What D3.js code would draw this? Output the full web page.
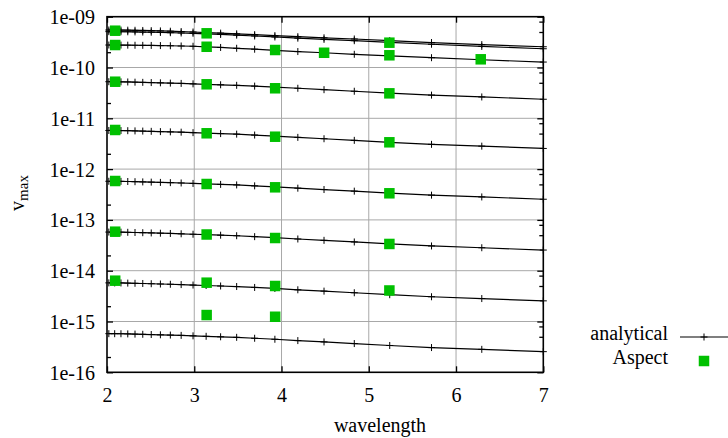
<!DOCTYPE html>
<html>
<head>
<meta charset="utf-8">
<script src="https://cdn.jsdelivr.net/npm/d3@7"></script>
<style>
  html, body { margin: 0; padding: 0; background: #ffffff; }
  svg { display: block; }
  svg text { font-family: "Liberation Serif", "Times New Roman", Times, "DejaVu Serif", serif !important; }
</style>
</head>
<body>
<script>
// Sample wavelengths of the analytical curves
const wavelength = [2.021, 2.088, 2.160, 2.238, 2.321, 2.410, 2.507, 2.612, 2.726, 2.850,
  2.986, 3.136, 3.302, 3.486, 3.692, 3.924, 4.187, 4.487, 4.834, 5.240, 5.719, 6.295, 7.000];

// Analytical maximum velocity, one array per amplitude level
const analytical1 = [5.47e-10, 5.46e-10, 5.45e-10, 5.43e-10, 5.40e-10, 5.36e-10, 5.31e-10, 5.25e-10, 5.18e-10, 5.10e-10,
  5.00e-10, 4.88e-10, 4.75e-10, 4.60e-10, 4.43e-10, 4.24e-10, 4.04e-10, 3.84e-10, 3.64e-10, 3.38e-10, 3.10e-10, 2.82e-10, 2.56e-10];
const analytical2 = [5.08e-10, 5.07e-10, 5.06e-10, 5.05e-10, 5.02e-10, 4.99e-10, 4.95e-10, 4.90e-10, 4.84e-10, 4.78e-10,
  4.71e-10, 4.60e-10, 4.47e-10, 4.33e-10, 4.17e-10, 3.99e-10, 3.78e-10, 3.58e-10, 3.37e-10, 3.13e-10, 2.87e-10, 2.60e-10, 2.34e-10];
const analytical3 = [2.77e-10, 2.77e-10, 2.76e-10, 2.75e-10, 2.74e-10, 2.73e-10, 2.72e-10, 2.70e-10, 2.68e-10, 2.65e-10,
  2.62e-10, 2.55e-10, 2.48e-10, 2.39e-10, 2.29e-10, 2.18e-10, 2.06e-10, 1.95e-10, 1.82e-10, 1.69e-10, 1.56e-10, 1.42e-10, 1.28e-10];
const analytical4 = [5.25e-11, 5.24e-11, 5.22e-11, 5.19e-11, 5.14e-11, 5.10e-11, 5.05e-11, 4.99e-11, 4.93e-11, 4.86e-11,
  4.77e-11, 4.67e-11, 4.57e-11, 4.46e-11, 4.30e-11, 4.12e-11, 3.90e-11, 3.66e-11, 3.41e-11, 3.13e-11, 2.86e-11, 2.63e-11, 2.37e-11];
const analytical5 = [5.76e-12, 5.75e-12, 5.74e-12, 5.70e-12, 5.65e-12, 5.60e-12, 5.54e-12, 5.47e-12, 5.41e-12, 5.33e-12,
  5.22e-12, 5.11e-12, 5.00e-12, 4.88e-12, 4.68e-12, 4.47e-12, 4.21e-12, 3.96e-12, 3.68e-12, 3.37e-12, 3.07e-12, 2.83e-12, 2.55e-12];
const analytical6 = [5.76e-13, 5.75e-13, 5.74e-13, 5.70e-13, 5.65e-13, 5.60e-13, 5.54e-13, 5.47e-13, 5.41e-13, 5.33e-13,
  5.22e-13, 5.11e-13, 5.00e-13, 4.88e-13, 4.68e-13, 4.47e-13, 4.21e-13, 3.96e-13, 3.68e-13, 3.37e-13, 3.07e-13, 2.83e-13, 2.55e-13];
const analytical7 = [5.76e-14, 5.75e-14, 5.74e-14, 5.70e-14, 5.65e-14, 5.60e-14, 5.54e-14, 5.47e-14, 5.41e-14, 5.33e-14,
  5.22e-14, 5.11e-14, 5.00e-14, 4.88e-14, 4.68e-14, 4.47e-14, 4.21e-14, 3.96e-14, 3.68e-14, 3.37e-14, 3.07e-14, 2.83e-14, 2.55e-14];
const analytical8 = [5.76e-15, 5.75e-15, 5.74e-15, 5.70e-15, 5.65e-15, 5.60e-15, 5.54e-15, 5.47e-15, 5.41e-15, 5.33e-15,
  5.22e-15, 5.11e-15, 5.00e-15, 4.88e-15, 4.68e-15, 4.47e-15, 4.21e-15, 3.96e-15, 3.68e-15, 3.37e-15, 3.07e-15, 2.83e-15, 2.55e-15];
const analytical9 = [5.76e-16, 5.75e-16, 5.74e-16, 5.70e-16, 5.65e-16, 5.60e-16, 5.54e-16, 5.47e-16, 5.41e-16, 5.33e-16,
  5.22e-16, 5.11e-16, 5.00e-16, 4.88e-16, 4.68e-16, 4.47e-16, 4.21e-16, 3.96e-16, 3.68e-16, 3.37e-16, 3.07e-16, 2.83e-16, 2.55e-16];

// Simulated (Aspect) results: wavelength / maximum velocity pairs
const aspectWavelength = [
  2.094, 3.142, 5.236,
  2.094, 3.142, 3.927, 4.488, 5.236, 6.283,
  2.094, 3.142, 3.927, 5.236,
  2.094, 3.142, 3.927, 5.236,
  2.094, 3.142, 3.927, 5.236,
  2.094, 3.142, 3.927, 5.236,
  2.094, 3.142, 3.927, 5.236,
  3.142, 3.927];
const aspectValue = [
  5.30e-10, 4.71e-10, 3.08e-10,
  2.77e-10, 2.56e-10, 2.21e-10, 1.95e-10, 1.74e-10, 1.45e-10,
  5.25e-11, 4.67e-11, 3.90e-11, 3.10e-11,
  5.89e-12, 5.07e-12, 4.34e-12, 3.37e-12,
  5.83e-13, 5.09e-13, 4.38e-13, 3.34e-13,
  5.86e-14, 5.16e-14, 4.40e-14, 3.36e-14,
  6.36e-15, 5.81e-15, 5.00e-15, 4.08e-15,
  1.34e-15, 1.24e-15];

// Axis ticks and labels
const xTicks = [2, 3, 4, 5, 6, 7];
const xTickLabels = ["2", "3", "4", "5", "6", "7"];
const yTicks = [1e-16, 1e-15, 1e-14, 1e-13, 1e-12, 1e-11, 1e-10, 1e-9];
const yTickLabels = ["1e-16", "1e-15", "1e-14", "1e-13", "1e-12", "1e-11", "1e-10", "1e-09"];
const yMinorLeft = [2e-16, 2e-15, 2e-14, 2e-13, 2e-12, 2e-11, 2e-10];
const yMinorRight = [5e-16, 8e-16, 5e-15, 8e-15, 5e-14, 8e-14, 5e-13, 8e-13, 5e-12, 8e-12, 5e-11, 8e-11, 5e-10, 8e-10];

const analyticalSeries = [analytical1, analytical2, analytical3, analytical4, analytical5,
  analytical6, analytical7, analytical8, analytical9];

const FONT = '"Liberation Serif", "Times New Roman", Times, "DejaVu Serif", serif';
const W = 728, H = 438;
const plotLeft = 107, plotRight = 543.3, plotTop = 16.7, plotBottom = 372.3;

const svg = d3.select("body").append("svg")
  .attr("width", W).attr("height", H)
  .style("font-family", FONT);

const x = d3.scaleLinear().domain([2, 7]).range([plotLeft, plotRight]);
const y = d3.scaleLog().domain([1e-16, 1e-9]).range([plotBottom, plotTop]);

// Grid
const grid = svg.append("g").attr("stroke", "#a8a8a8").attr("stroke-width", 1);
grid.selectAll("line.gx").data(xTicks.slice(1, -1)).join("line")
  .attr("class", "gx")
  .attr("x1", d => x(d)).attr("x2", d => x(d))
  .attr("y1", plotTop).attr("y2", plotBottom);
grid.selectAll("line.gy").data(yTicks.slice(1, -1)).join("line")
  .attr("class", "gy")
  .attr("x1", plotLeft).attr("x2", plotRight)
  .attr("y1", d => y(d)).attr("y2", d => y(d));

// Axes with inward ticks
function styleAxis(g) {
  g.select(".domain").remove();
  g.attr("font-family", null).style("font-family", FONT);
  g.selectAll(".tick line").attr("stroke", "#000").attr("stroke-width", 1.3);
  g.selectAll(".tick text").style("font-family", FONT).attr("font-size", 20).attr("fill", "#000");
}

svg.append("g").attr("transform", `translate(${plotLeft},0)`)
  .call(d3.axisLeft(y).tickValues(yTicks)
    .tickFormat((d, i) => yTickLabels[i]).tickSize(-6).tickPadding(12))
  .call(styleAxis)
  .call(g => g.selectAll(".tick text").attr("dy", "0.35em"));

svg.append("g").attr("transform", `translate(${plotLeft},0)`)
  .call(d3.axisLeft(y).tickValues(yMinorLeft).tickFormat(() => "").tickSize(-4))
  .call(styleAxis);

svg.append("g").attr("transform", `translate(${plotRight},0)`)
  .call(d3.axisRight(y).tickValues(yTicks).tickFormat(() => "").tickSize(-6))
  .call(styleAxis);

svg.append("g").attr("transform", `translate(${plotRight},0)`)
  .call(d3.axisRight(y).tickValues(yMinorRight).tickFormat(() => "").tickSize(-4))
  .call(styleAxis);

svg.append("g").attr("transform", `translate(0,${plotBottom})`)
  .call(d3.axisBottom(x).tickValues(xTicks)
    .tickFormat((d, i) => xTickLabels[i]).tickSize(-6).tickPadding(16))
  .call(styleAxis);

svg.append("g").attr("transform", `translate(0,${plotTop})`)
  .call(d3.axisTop(x).tickValues(xTicks).tickFormat(() => "").tickSize(-6))
  .call(styleAxis);

// Plot border
svg.append("rect")
  .attr("x", plotLeft).attr("y", plotTop)
  .attr("width", plotRight - plotLeft).attr("height", plotBottom - plotTop)
  .attr("fill", "none").attr("stroke", "#000").attr("stroke-width", 1.6);

// Analytical curves with plus markers
const line = d3.line().x(d => x(d[0])).y(d => y(d[1]));
const plusPath = "M-3.5,0H3.5M0,-3.5V3.5";
const curves = svg.append("g");
analyticalSeries.forEach(vals => {
  const pts = wavelength.map((w, i) => [w, vals[i]]);
  curves.append("path").datum(pts)
    .attr("d", line).attr("fill", "none")
    .attr("stroke", "#000").attr("stroke-width", 1.2);
  curves.append("g").selectAll("path").data(pts).join("path")
    .attr("transform", d => `translate(${x(d[0])},${y(d[1])})`)
    .attr("d", plusPath).attr("stroke", "#000").attr("stroke-width", 1);
});

// Aspect results
const sq = 10.5;
svg.append("g").selectAll("rect").data(aspectWavelength.map((w, i) => [w, aspectValue[i]])).join("rect")
  .attr("x", d => x(d[0]) - sq / 2).attr("y", d => y(d[1]) - sq / 2)
  .attr("width", sq).attr("height", sq)
  .attr("fill", "#00c000");

// Axis titles
svg.append("text")
  .attr("x", 380).attr("y", 432)
  .attr("text-anchor", "middle").attr("font-size", 20)
  .text("wavelength");

const yl = svg.append("text")
  .attr("transform", "translate(24,193) rotate(-90)")
  .attr("text-anchor", "middle").attr("font-size", 20);
yl.append("tspan").text("v");
yl.append("tspan").attr("font-size", 15).attr("dy", 4).text("max");

// Legend
const legend = svg.append("g").attr("font-size", 20);
legend.append("text").attr("x", 668).attr("y", 340).attr("text-anchor", "end").text("analytical");
legend.append("line").attr("x1", 680).attr("x2", 728).attr("y1", 337).attr("y2", 337)
  .attr("stroke", "#000").attr("stroke-width", 1.2);
legend.append("path").attr("transform", "translate(704,337)").attr("d", plusPath)
  .attr("stroke", "#000").attr("stroke-width", 1);
legend.append("text").attr("x", 668).attr("y", 364).attr("text-anchor", "end").text("Aspect");
legend.append("rect").attr("x", 704 - sq / 2).attr("y", 361 - sq / 2)
  .attr("width", sq).attr("height", sq).attr("fill", "#00c000");
</script>
</body>
</html>
